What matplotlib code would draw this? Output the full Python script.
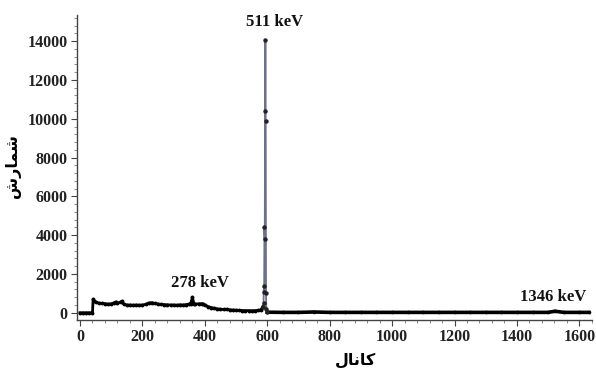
import matplotlib
matplotlib.use("Agg")
import matplotlib.pyplot as plt
from matplotlib.ticker import MultipleLocator

# ---- data ----
channels = [0, 10, 20, 30, 40, 42, 45, 50, 60, 70, 80, 90, 100, 110, 115, 120, 130, 135, 140,
            150, 160, 170, 180, 190, 200, 210, 220, 230, 240, 250, 260, 270, 280, 290, 300,
            310, 320, 330, 340, 350, 355, 360, 365, 370, 380, 390, 395, 400, 410, 420, 430,
            440, 450, 460, 470, 480, 490, 500, 510, 520, 530, 540, 550, 560, 570, 580, 585]
counts = [0, 0, 0, 0, 0, 700, 620, 550, 500, 480, 470, 450, 460, 520, 560, 480, 560, 600, 440,
          400, 400, 390, 400, 390, 400, 430, 500, 520, 480, 450, 430, 420, 410, 400, 400,
          390, 410, 400, 420, 450, 470, 800, 470, 450, 460, 470, 450, 400, 320, 270, 230,
          200, 180, 170, 180, 150, 140, 130, 120, 115, 110, 110, 105, 110, 120, 150, 300]

peak_channels = [585, 588, 589, 590, 591, 592, 593, 594, 595, 596, 597, 600]
peak_counts = [300, 480, 1360, 1050, 4420, 3780, 10380, 14050, 9860, 1000, 200, 30]

tail_channels = [600, 650, 700, 750, 800, 850, 900, 950, 1000, 1050, 1100, 1150, 1200,
                 1250, 1300, 1350, 1400, 1450, 1500, 1522, 1550, 1600, 1630]
tail_counts = [30, 20, 20, 40, 20, 20, 20, 20, 20, 20, 20, 20, 20,
               20, 20, 20, 20, 20, 20, 80, 20, 20, 20]

peak_labels = ["511 keV", "278 keV", "1346 keV"]
peak_label_x = [625, 385, 1516]
peak_label_y = [14990, 1545, 825]

ylabel_text = "شمارش"
xlabel_text = "کانال"

# ---- minimal Arabic/Persian shaping for matplotlib (no complex text layout) ----
FORMS = {
    "ش": ("\uFEB5", "\uFEB6", "\uFEB7", "\uFEB8"),
    "م": ("\uFEE1", "\uFEE2", "\uFEE3", "\uFEE4"),
    "ا": ("\uFE8D", "\uFE8E", None, None),
    "ر": ("\uFEAD", "\uFEAE", None, None),
    "ک": ("\uFB8E", "\uFB8F", "\uFB90", "\uFB91"),
    "ن": ("\uFEE5", "\uFEE6", "\uFEE7", "\uFEE8"),
    "ل": ("\uFEDD", "\uFEDE", "\uFEDF", "\uFEE0"),
}


def shape(word):
    out = []
    n = len(word)
    for i, ch in enumerate(word):
        f = FORMS.get(ch)
        if f is None:
            out.append(ch)
            continue
        prev_joins = i > 0 and FORMS.get(word[i - 1]) is not None and FORMS[word[i - 1]][2] is not None
        next_joins = i < n - 1 and FORMS.get(word[i + 1]) is not None and f[2] is not None
        if prev_joins and next_joins:
            out.append(f[3])
        elif prev_joins:
            out.append(f[1])
        elif next_joins:
            out.append(f[2])
        else:
            out.append(f[0])
    return "".join(reversed(out))


fig = plt.figure(figsize=(5.96, 3.74), dpi=100)
ax = fig.add_axes([0.129, 0.144, 0.864, 0.816])

ax.plot(channels, counts, color="black", lw=2.0, marker="o", ms=1.8, zorder=3)
ax.plot(tail_channels, tail_counts, color="black", lw=2.6, marker="o", ms=1.6, zorder=3)
ax.plot(peak_channels, peak_counts, color="#6e6e90", lw=1.3, zorder=2)
ax.plot(peak_channels, peak_counts, ls="none", marker="o", ms=2.2, color="#222222", zorder=4)

for txt, x, y in zip(peak_labels, peak_label_x, peak_label_y):
    ax.text(x, y, txt, ha="center", va="center", fontsize=12, fontweight="bold",
            family="Liberation Serif", color="#111111")

ax.set_xlim(-10, 1640)
ax.set_ylim(-380, 15350)
ax.xaxis.set_major_locator(MultipleLocator(200))
ax.xaxis.set_minor_locator(MultipleLocator(40))
ax.yaxis.set_major_locator(MultipleLocator(2000))
ax.yaxis.set_minor_locator(MultipleLocator(400))

for s in ["top", "right"]:
    ax.spines[s].set_visible(False)
for s in ["left", "bottom"]:
    ax.spines[s].set_color("#444444")
    ax.spines[s].set_linewidth(1.0)

ax.tick_params(axis="both", which="major", length=4, width=0.8, color="#444444",
               direction="out", pad=2.5)
ax.tick_params(axis="both", which="minor", length=2, width=0.6, color="#777777", direction="out")
for lab in ax.get_xticklabels() + ax.get_yticklabels():
    lab.set_family("Liberation Serif")
    lab.set_fontweight("bold")
    lab.set_fontsize(11.5)
    lab.set_color("#222222")

# axis titles (placed in figure pixels to match the reference)
fig.text(13 / 596, 1 - 166 / 374, shape(ylabel_text), rotation=90, ha="center", va="center",
         fontsize=11.5, fontweight="bold", family="DejaVu Sans")
fig.text(355 / 596, 1 - 360 / 374, shape(xlabel_text), ha="center", va="center",
         fontsize=11.5, fontweight="bold", family="DejaVu Sans")

fig.savefig("out.png", dpi=100)
